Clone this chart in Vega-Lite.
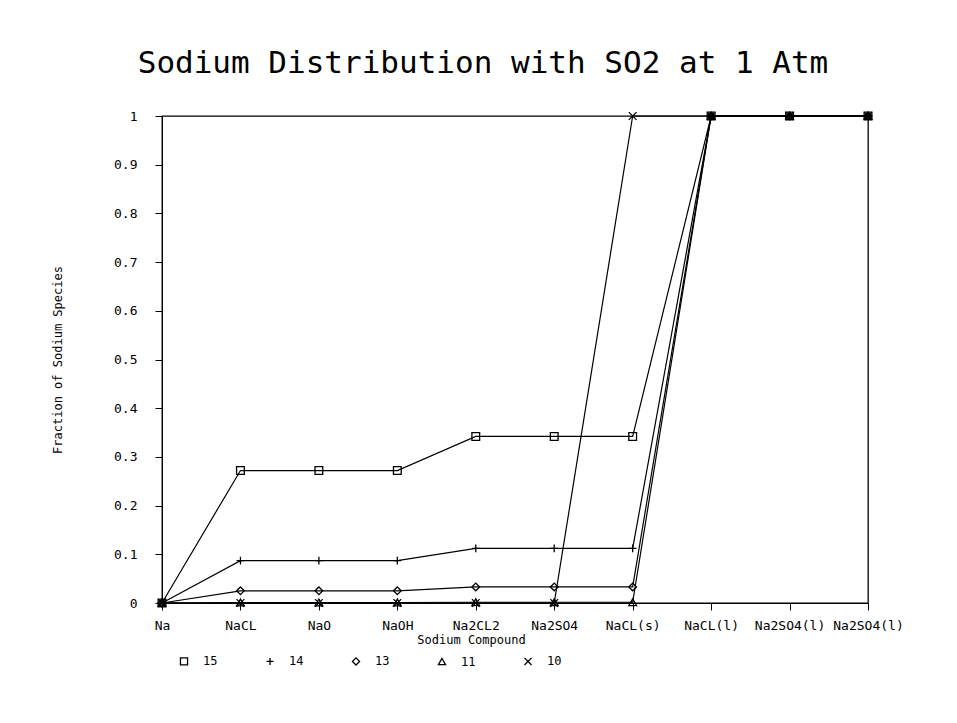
{
  "$schema": "https://vega.github.io/schema/vega-lite/v6.json",
  "autosize": {"type": "none"},
  "padding": {"left": 162, "top": 116, "right": 89, "bottom": 120},
  "width": 706,
  "height": 487,
  "background": "white",
  "config": {
    "font": "DejaVu Sans Mono",
    "view": {"stroke": "black", "strokeWidth": 1.3},
    "axis": {"domainColor": "black", "tickColor": "black", "labelColor": "black", "titleColor": "black", "grid": false, "labelFont": "DejaVu Sans Mono", "titleFont": "DejaVu Sans Mono", "titleFontWeight": "normal"}
  },
  "title": {
    "text": "Sodium Distribution with SO2 at 1 Atm",
    "font": "DejaVu Sans Mono",
    "fontSize": 31,
    "fontWeight": "normal",
    "color": "black",
    "anchor": "middle",
    "dx": -32,
    "offset": 30
  },
  "data": {
    "values": [
      {"series": "15", "compound": "Na", "value": 0},
      {"series": "15", "compound": "NaCL", "value": 0.272},
      {"series": "15", "compound": "NaO", "value": 0.272},
      {"series": "15", "compound": "NaOH", "value": 0.272},
      {"series": "15", "compound": "Na2CL2", "value": 0.342},
      {"series": "15", "compound": "Na2SO4", "value": 0.342},
      {"series": "15", "compound": "NaCL(s)", "value": 0.342},
      {"series": "15", "compound": "NaCL(l)", "value": 1},
      {"series": "15", "compound": "Na2SO4(l)", "value": 1},
      {"series": "15", "compound": "Na2SO4(l)|2", "value": 1},
      {"series": "14", "compound": "Na", "value": 0},
      {"series": "14", "compound": "NaCL", "value": 0.087},
      {"series": "14", "compound": "NaO", "value": 0.087},
      {"series": "14", "compound": "NaOH", "value": 0.087},
      {"series": "14", "compound": "Na2CL2", "value": 0.112},
      {"series": "14", "compound": "Na2SO4", "value": 0.112},
      {"series": "14", "compound": "NaCL(s)", "value": 0.112},
      {"series": "14", "compound": "NaCL(l)", "value": 1},
      {"series": "14", "compound": "Na2SO4(l)", "value": 1},
      {"series": "14", "compound": "Na2SO4(l)|2", "value": 1},
      {"series": "13", "compound": "Na", "value": 0},
      {"series": "13", "compound": "NaCL", "value": 0.025},
      {"series": "13", "compound": "NaO", "value": 0.025},
      {"series": "13", "compound": "NaOH", "value": 0.025},
      {"series": "13", "compound": "Na2CL2", "value": 0.033},
      {"series": "13", "compound": "Na2SO4", "value": 0.033},
      {"series": "13", "compound": "NaCL(s)", "value": 0.033},
      {"series": "13", "compound": "NaCL(l)", "value": 1},
      {"series": "13", "compound": "Na2SO4(l)", "value": 1},
      {"series": "13", "compound": "Na2SO4(l)|2", "value": 1},
      {"series": "11", "compound": "Na", "value": 0},
      {"series": "11", "compound": "NaCL", "value": 0.001},
      {"series": "11", "compound": "NaO", "value": 0.001},
      {"series": "11", "compound": "NaOH", "value": 0.001},
      {"series": "11", "compound": "Na2CL2", "value": 0.0015},
      {"series": "11", "compound": "Na2SO4", "value": 0.0015},
      {"series": "11", "compound": "NaCL(s)", "value": 0.0015},
      {"series": "11", "compound": "NaCL(l)", "value": 1},
      {"series": "11", "compound": "Na2SO4(l)", "value": 1},
      {"series": "11", "compound": "Na2SO4(l)|2", "value": 1},
      {"series": "10", "compound": "Na", "value": 0},
      {"series": "10", "compound": "NaCL", "value": 0},
      {"series": "10", "compound": "NaO", "value": 0},
      {"series": "10", "compound": "NaOH", "value": 0},
      {"series": "10", "compound": "Na2CL2", "value": 0},
      {"series": "10", "compound": "Na2SO4", "value": 0},
      {"series": "10", "compound": "NaCL(s)", "value": 1},
      {"series": "10", "compound": "NaCL(l)", "value": 1},
      {"series": "10", "compound": "Na2SO4(l)", "value": 1},
      {"series": "10", "compound": "Na2SO4(l)|2", "value": 1}
    ]
  },
  "encoding": {
    "x": {
      "field": "compound",
      "type": "ordinal",
      "scale": {"type": "point", "padding": 0, "domain": ["Na", "NaCL", "NaO", "NaOH", "Na2CL2", "Na2SO4", "NaCL(s)", "NaCL(l)", "Na2SO4(l)", "Na2SO4(l)|2"]},
      "axis": {
        "title": "Sodium Compound",
        "titleFontSize": 12,
        "titlePadding": 2,
        "titleX": 309,
        "labelAngle": 0,
        "labelFontSize": 13,
        "labelPadding": 9,
        "tickSize": 7,
        "labelOverlap": false,
        "labelBound": false,
        "labelExpr": "split(datum.label, '|')[0]"
      }
    },
    "y": {
      "field": "value",
      "type": "quantitative",
      "scale": {"domain": [0, 1], "nice": false},
      "axis": {
        "title": "Fraction of Sodium Species",
        "titleFontSize": 12,
        "titlePadding": 49,
        "values": [0, 0.1, 0.2, 0.3, 0.4, 0.5, 0.6, 0.7, 0.8, 0.9, 1],
        "format": "~g",
        "labelFontSize": 13,
        "labelPadding": 18,
        "tickSize": 7
      }
    }
  },
  "layer": [
    {
      "mark": {"type": "line", "color": "black", "strokeWidth": 1.2},
      "encoding": {"detail": {"field": "series"}}
    },
    {
      "mark": {"type": "point", "filled": false, "color": "black", "strokeWidth": 1.3, "size": 60, "opacity": 1},
      "encoding": {
        "shape": {
          "field": "series",
          "type": "nominal",
          "sort": ["15", "14", "13", "11", "10"],
          "scale": {
            "domain": ["15", "14", "13", "11", "10"],
            "range": ["square", "M-1,0L1,0M0,-1L0,1", "diamond", "triangle-up", "M-1,-1L1,1M-1,1L1,-1"]
          },
          "legend": {
            "orient": "none",
            "legendX": 16,
            "legendY": 539,
            "direction": "horizontal",
            "columns": 5,
            "title": null,
            "labelFontSize": 12,
            "labelFont": "DejaVu Sans Mono",
            "labelColor": "black",
            "labelOffset": 13,
            "columnPadding": 45,
            "symbolSize": 50,
            "symbolStrokeColor": "black",
            "symbolStrokeWidth": 1.3
          }
        }
      }
    }
  ]
}
